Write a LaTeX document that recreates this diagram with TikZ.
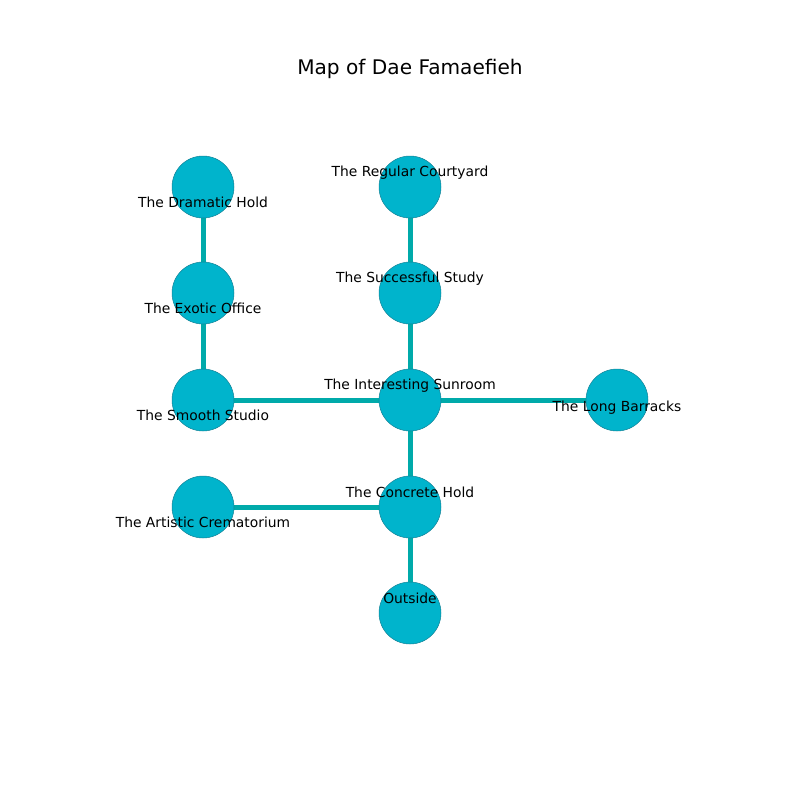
\documentclass[tikz,border=0pt]{standalone}
\usepackage{fontspec}
\setmainfont{DejaVu Sans}
\definecolor{nodefill}{RGB}{0,180,204}
\definecolor{nodeedge}{RGB}{20,130,150}
\definecolor{edgecol}{RGB}{0,170,170}
\begin{document}
\begin{tikzpicture}[x=1bp,y=-1bp,
  room/.style={circle,fill=nodefill,draw=nodeedge,line width=0.5bp,minimum size=62bp,inner sep=0pt},
  lbl/.style={font=\fontsize{13.9}{16}\selectfont,inner sep=0pt,text=black,yshift=-1.5bp},
  link/.style={draw=edgecol,line width=5bp}]
\useasboundingbox (0,0) rectangle (800,800);
\node[font=\fontsize{20.2}{24}\selectfont,yshift=-2bp] (title) at (410,67) {Map of Dae Famaefieh};
\coordinate (pdh) at (203,187);
\coordinate (peo) at (203,293);
\coordinate (pss) at (203,400);
\coordinate (pac) at (203,507);
\coordinate (prc) at (410,187);
\coordinate (pst) at (410,293);
\coordinate (pis) at (410,400);
\coordinate (pch) at (410,507);
\coordinate (pou) at (410,613);
\coordinate (plb) at (617,400);
\draw[link] (pdh) -- (peo);
\draw[link] (peo) -- (pss);
\draw[link] (pss) -- (pis);
\draw[link] (prc) -- (pst);
\draw[link] (pst) -- (pis);
\draw[link] (pis) -- (plb);
\draw[link] (pis) -- (pch);
\draw[link] (pch) -- (pac);
\draw[link] (pch) -- (pou);
\node[room] (dh) at (pdh) {};
\node[room] (eo) at (peo) {};
\node[room] (ss) at (pss) {};
\node[room] (ac) at (pac) {};
\node[room] (rc) at (prc) {};
\node[room] (st) at (pst) {};
\node[room] (is) at (pis) {};
\node[room] (ch) at (pch) {};
\node[room] (ou) at (pou) {};
\node[room] (lb) at (plb) {};
\node[lbl] (ldh) at (203,201) {The Dramatic Hold};
\node[lbl] (leo) at (203,307) {The Exotic Office};
\node[lbl] (lss) at (203,414) {The Smooth Studio};
\node[lbl] (lac) at (203,521) {The Artistic Crematorium};
\node[lbl] (lrc) at (410,171) {The Regular Courtyard};
\node[lbl] (lst) at (410,277) {The Successful Study};
\node[lbl] (lis) at (410,384) {The Interesting Sunroom};
\node[lbl] (lch) at (410,491) {The Concrete Hold};
\node[lbl] (lou) at (410,597) {Outside};
\node[lbl] (llb) at (617,406) {The Long Barracks};
\end{tikzpicture}
\end{document}
